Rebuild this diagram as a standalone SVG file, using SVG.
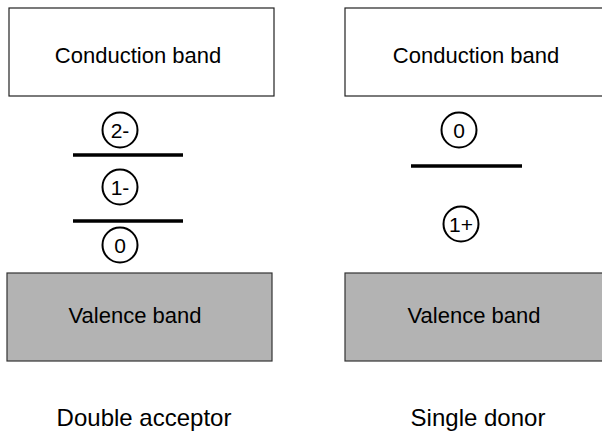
<svg xmlns="http://www.w3.org/2000/svg" width="602" height="432" viewBox="0 0 602 432">
<style>
.cb{fill:#ffffff;stroke:#222;stroke-width:1.2}
.vb{fill:#b3b3b3;stroke:#333;stroke-width:1.2}
.t{font-family:"Liberation Sans",Arial,sans-serif;fill:#000;text-anchor:middle}
.band{font-size:22px}
.lab{font-size:24px}
.st{fill:#fff;stroke:#000;stroke-width:2}
.sl{font-size:21px}
.lvl{stroke:#000;stroke-width:3.5}
</style>
<rect width="602" height="432" fill="#fff"/>
<g id="cb-left"><rect class="cb" x="9" y="8" width="265" height="88"/><text class="t band" x="138" y="63">Conduction band</text></g>
<g id="cb-right"><rect class="cb" x="345" y="8" width="265" height="88"/><text class="t band" x="476" y="63">Conduction band</text></g>
<g id="vb-left"><rect class="vb" x="7" y="273" width="265" height="88"/><text class="t band" x="135" y="323">Valence band</text></g>
<g id="vb-right"><rect class="vb" x="345" y="273" width="265" height="88"/><text class="t band" x="474" y="323">Valence band</text></g>
<g id="levels">
<line class="lvl" x1="73" y1="155" x2="183" y2="155"/>
<line class="lvl" x1="73" y1="221" x2="183" y2="221"/>
<line class="lvl" x1="411" y1="166" x2="522" y2="166"/>
</g>
<g id="s-2minus"><circle class="st" cx="120" cy="130" r="17.5"/><text class="t sl" x="120" y="137.5">2-</text></g>
<g id="s-1minus"><circle class="st" cx="120" cy="187" r="17.5"/><text class="t sl" x="120" y="194.5">1-</text></g>
<g id="s-0-left"><circle class="st" cx="120" cy="245" r="17.5"/><text class="t sl" x="120" y="252.5">0</text></g>
<g id="s-0-right"><circle class="st" cx="459" cy="130" r="17.5"/><text class="t sl" x="459" y="137.5">0</text></g>
<g id="s-1plus"><circle class="st" cx="461" cy="224" r="17.5"/><text class="t sl" x="461" y="231.5">1+</text></g>
<g id="label-left"><text class="t lab" x="144" y="426">Double acceptor</text></g>
<g id="label-right"><text class="t lab" x="478" y="426">Single donor</text></g>
</svg>
